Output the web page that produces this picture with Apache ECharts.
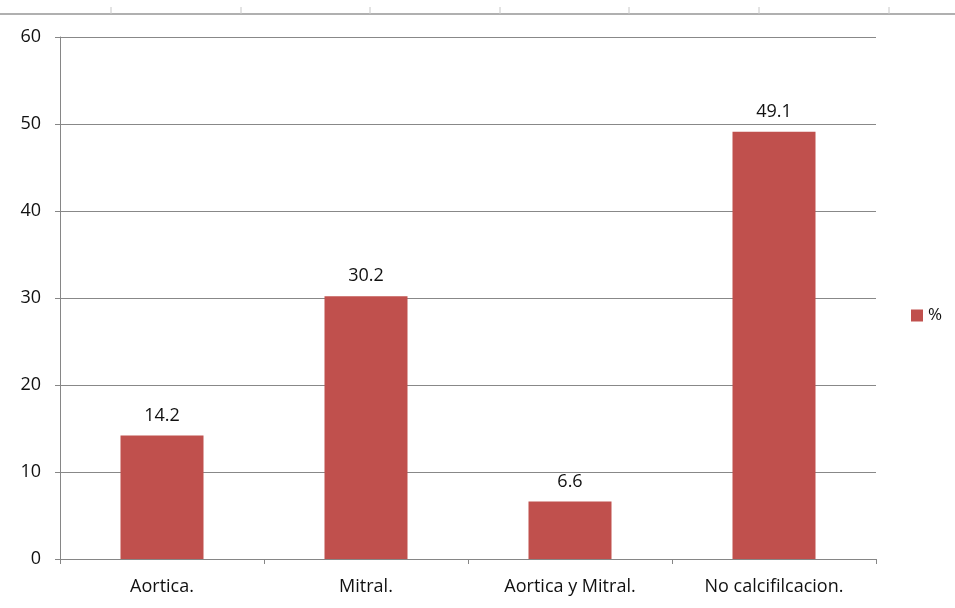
<!DOCTYPE html>
<html>
<head>
<meta charset="utf-8">
<script src="https://cdn.jsdelivr.net/npm/echarts@6/dist/echarts.min.js"></script>
<style>
  html, body { margin: 0; padding: 0; background: #fff; }
  #chart { width: 955px; height: 608px; }
</style>
</head>
<body>
<div id="chart"></div>
<script>
const categories = ['Aortica.', 'Mitral.', 'Aortica y Mitral.', 'No calcifilcacion.'];
const percentValues = [14.2, 30.2, 6.6, 49.1];
const seriesName = '%';

const chart = echarts.init(document.getElementById('chart'), null, { renderer: 'canvas' });

// top strip left over from the spreadsheet crop
const topTicks = [111, 241, 370, 500, 629, 759, 889].map(x => ({
  type: 'line',
  shape: { x1: x, y1: 7, x2: x, y2: 14 },
  style: { stroke: '#c8c8c8', lineWidth: 1 }
}));

const font = '"Open Sans", sans-serif';

const option = {
  backgroundColor: '#fff',
  textStyle: { fontFamily: font },
  grid: { left: 60, right: 79, top: 37, bottom: 49 },
  legend: {
    data: [seriesName],
    left: 906,
    top: 302,
    orient: 'vertical',
    icon: 'rect',
    itemWidth: 12,
    itemHeight: 12,
    itemGap: 5,
    textStyle: { fontSize: 17, color: '#111', fontFamily: font }
  },
  xAxis: {
    type: 'category',
    data: categories,
    axisLine: { lineStyle: { color: '#868686' } },
    axisTick: { show: true, length: 5, lineStyle: { color: '#868686' } },
    axisLabel: { fontSize: 18, color: '#111', margin: 19 },
    splitLine: { show: false }
  },
  yAxis: {
    type: 'value',
    min: 0,
    max: 60,
    interval: 10,
    axisLine: { show: true, lineStyle: { color: '#868686' } },
    axisTick: { show: true, length: 5, lineStyle: { color: '#868686' } },
    axisLabel: { fontSize: 18, color: '#111', margin: 19 },
    splitLine: { lineStyle: { color: '#888888', width: 1 } }
  },
  series: [{
    name: seriesName,
    type: 'bar',
    data: percentValues,
    barWidth: 83,
    itemStyle: { color: '#C0504D' },
    label: {
      show: true,
      position: 'top',
      distance: 11,
      fontSize: 18,
      color: '#111'
    }
  }],
  graphic: [
    {
      type: 'line',
      shape: { x1: 0, y1: 14, x2: 955, y2: 14 },
      style: { stroke: '#b0b0b0', lineWidth: 2 }
    }
  ].concat(topTicks),
  animation: false
};

chart.setOption(option);
</script>
</body>
</html>
